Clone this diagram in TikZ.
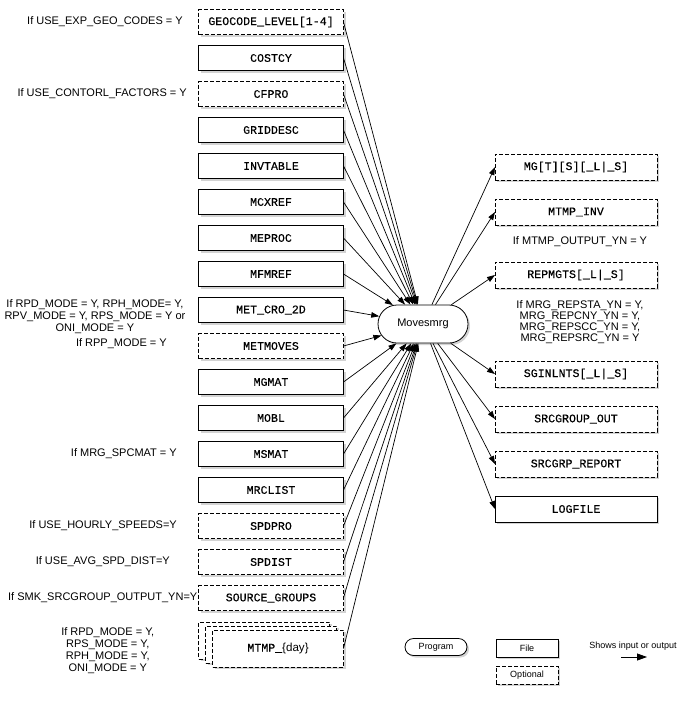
\documentclass[tikz,border=0pt]{standalone}
\usepackage{fontspec}
\setmainfont{Liberation Sans}
\setmonofont{Liberation Mono}[FakeBold=0.25]
\usetikzlibrary{positioning}
\usetikzlibrary{shapes.misc, shadows, arrows.meta}

\begin{document}
\begin{tikzpicture}[
  x=1pt, y=1pt,
  every node/.style={font=\fontsize{11}{12}\selectfont},
  box/.style={draw, fill=white, line width=0.8pt, inner sep=0pt, outer sep=0pt,
    font=\fontsize{11.6}{13}\selectfont\ttfamily,
    drop shadow={shadow xshift=2pt, shadow yshift=-2pt, opacity=0.35}},
  infile/.style={box, minimum width=145pt, minimum height=25pt},
  inopt/.style={infile, dash pattern=on 4pt off 2pt},
  outfile/.style={box, minimum width=162pt, minimum height=26pt},
  outopt/.style={outfile, dash pattern=on 4pt off 2pt},
  daybox/.style={inopt, minimum width=131pt, minimum height=37pt, anchor=north west},
  prog/.style={rounded rectangle, draw, fill=white, line width=0.8pt, inner sep=0pt,
    drop shadow={shadow xshift=2pt, shadow yshift=-2pt, opacity=0.35}},
  cond/.style={inner sep=0pt, align=center},
  small/.style={font=\fontsize{9}{10}\selectfont},
  flow/.style={-{Triangle[length=8pt, width=5.5pt]}, line width=0.7pt},
]

\useasboundingbox (0,0) rectangle (684,-702);

% inputs
\node (geo) [inopt] at (271,-22) {GEOCODE\_LEVEL[1-4]};
\node (costcy) [infile, below=11pt of geo] {COSTCY};
\node (cfpro) [inopt, below=11pt of costcy] {CFPRO};
\node (griddesc) [infile, below=11pt of cfpro] {GRIDDESC};
\node (invtable) [infile, below=11pt of griddesc] {INVTABLE};
\node (mcxref) [infile, below=11pt of invtable] {MCXREF};
\node (meproc) [infile, below=11pt of mcxref] {MEPROC};
\node (mfmref) [infile, below=11pt of meproc] {MFMREF};
\node (metcro) [infile, below=11pt of mfmref] {MET\_CRO\_2D};
\node (metmoves) [inopt, below=11pt of metcro] {METMOVES};
\node (mgmat) [infile, below=11pt of metmoves] {MGMAT};
\node (mobl) [infile, below=11pt of mgmat] {MOBL};
\node (msmat) [infile, below=11pt of mobl] {MSMAT};
\node (mrclist) [infile, below=11pt of msmat] {MRCLIST};
\node (spdpro) [inopt, below=11pt of mrclist] {SPDPRO};
\node (spdist) [inopt, below=11pt of spdpro] {SPDIST};
\node (srcgrp) [inopt, below=11pt of spdist] {SOURCE\_GROUPS};

% stack of daily files
\node (mtmpc) [daybox, below=11.5pt of srcgrp.south west, anchor=north west] {};
\node (mtmpb) [daybox] at ([shift={(7,-4)}]mtmpc.north west) {};
\node (mtmp) [daybox] at ([shift={(7,-4)}]mtmpb.north west) {MTMP\_{\rmfamily\{day\}}};

% conditions on the inputs
\node (c-geo) [cond, left=15.5pt of geo] {If USE\_EXP\_GEO\_CODES = Y};
\node (c-cfpro) [cond, left=11.5pt of cfpro] {If USE\_CONTORL\_FACTORS = Y};
\node (c-met) [cond, left=13pt of metcro, yshift=-7pt] {If RPD\_MODE = Y, RPH\_MODE= Y,\\RPV\_MODE = Y, RPS\_MODE = Y or\\ONI\_MODE = Y};
\node (c-rpp) [cond, left=31.5pt of metmoves, yshift=2pt] {If RPP\_MODE = Y};
\node (c-msmat) [cond, left=21.5pt of msmat] {If MRG\_SPCMAT = Y};
\node (c-spdpro) [cond, left=21.5pt of spdpro] {If USE\_HOURLY\_SPEEDS=Y};
\node (c-spdist) [cond, left=28.5pt of spdist] {If USE\_AVG\_SPD\_DIST=Y};
\node (c-srcgrp) [cond, left=1pt of srcgrp] {If SMK\_SRCGROUP\_OUTPUT\_YN=Y};
\node (c-mtmp) [cond, left=58pt of mtmp, yshift=-2pt] {If RPD\_MODE = Y,\\RPS\_MODE = Y,\\RPH\_MODE = Y,\\ONI\_MODE = Y};

% program
\node (movesmrg) [prog, minimum width=90pt, minimum height=38pt] at (423,-324) {Movesmrg};

% outputs
\node (mg) [outopt] at (576,-167) {MG[T][S][\_L|\_S]};
\node (mtmpinv) [outopt, below=19pt of mg] {MTMP\_INV};
\node (repmgts) [outopt, below=37pt of mtmpinv] {REPMGTS[\_L|\_S]};
\node (sginlnts) [outopt, below=73pt of repmgts] {SGINLNTS[\_L|\_S]};
\node (srcgrpout) [outopt, below=19pt of sginlnts] {SRCGROUP\_OUT};
\node (srcgrprep) [outopt, below=19pt of srcgrpout] {SRCGRP\_REPORT};
\node (logfile) [outfile, below=19pt of srcgrprep] {LOGFILE};

\node (c-inv) [cond, below=11pt of mtmpinv, xshift=4pt] {If MTMP\_OUTPUT\_YN = Y};
\node (c-rep) [cond, below=12pt of repmgts, xshift=4pt, font=\fontsize{11}{11}\selectfont] {If MRG\_REPSTA\_YN = Y,\\MRG\_REPCNY\_YN = Y,\\MRG\_REPSCC\_YN = Y,\\MRG\_REPSRC\_YN = Y};

% connectors
\foreach \src in {geo, costcy, cfpro, griddesc, invtable, mcxref, meproc, mfmref,
  metcro, metmoves, mgmat, mobl, msmat, mrclist, spdpro, spdist, srcgrp, mtmp}
  \draw[flow] (\src.east) -- (movesmrg);
\foreach \dst in {mg, mtmpinv, repmgts, sginlnts, srcgrpout, srcgrprep, logfile}
  \draw[flow] (movesmrg) -- (\dst.west);

% legend
\node (lg-prog) [prog, small, minimum width=62pt, minimum height=17pt] at (436,-647) {Program};
\node (lg-file) [box, small, minimum width=62pt, minimum height=18pt] at (527,-648) {File};
\node (lg-opt) [box, small, dash pattern=on 4pt off 2pt, minimum width=62pt, minimum height=18pt, below=9pt of lg-file] {Optional};
\node (lg-text) [cond, small] at (633,-646) {Shows input or output};
\coordinate (lg-a) at (621,-657);
\coordinate (lg-b) at (647,-657);
\draw[-{Triangle[length=10pt, width=7pt]}, line width=0.8pt] (lg-a) -- (lg-b);

\end{tikzpicture}
\end{document}
